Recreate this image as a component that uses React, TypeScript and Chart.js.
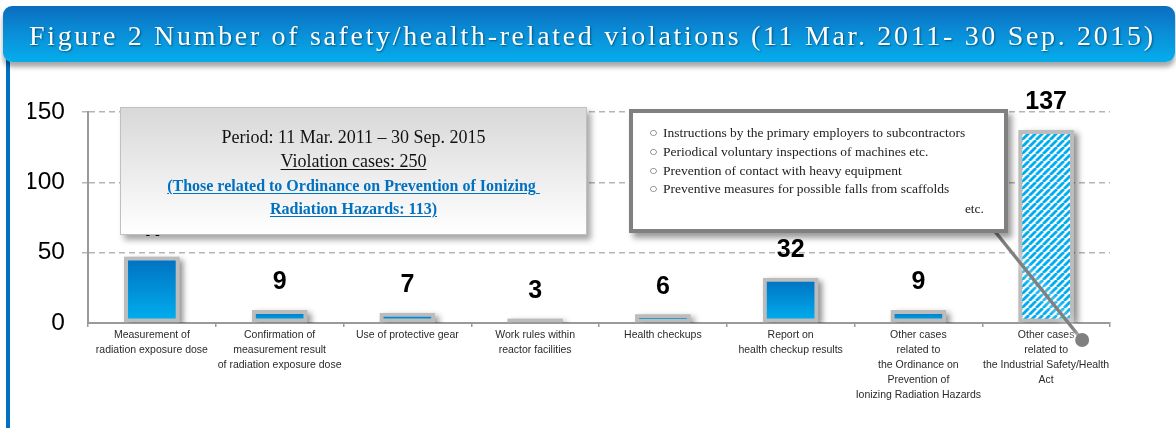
import React, { useEffect, useRef, useMemo } from 'react';
import { Chart, registerables } from 'chart.js';

Chart.register(...registerables);

const TITLE = 'Figure 2 Number of safety/health-related violations (11 Mar. 2011- 30 Sep. 2015)';

const categories: string[][] = [
  ['Measurement of', 'radiation exposure dose'],
  ['Confirmation of', 'measurement result', 'of radiation exposure dose'],
  ['Use of protective gear'],
  ['Work rules within', 'reactor facilities'],
  ['Health checkups'],
  ['Report on', 'health checkup results'],
  ['Other cases', 'related to', 'the Ordinance on', 'Prevention of', 'Ionizing Radiation Hazards'],
  ['Other cases', 'related to', 'the Industrial Safety/Health', 'Act'],
];

const violations: number[] = [47, 9, 7, 3, 6, 32, 9, 137];

const yTickValues: number[] = [0, 50, 100, 150];

const summaryLines: string[] = [
  'Period: 11 Mar. 2011 – 30 Sep. 2015',
  'Violation cases: 250',
  '(Those related to Ordinance on Prevention of Ionizing ',
  'Radiation Hazards: 113)',
];

const exampleLines: string[] = [
  'Instructions by the primary employers to subcontractors',
  'Periodical voluntary inspections of machines etc.',
  'Prevention of contact with heavy equipment',
  'Preventive measures for possible falls from scaffolds',
];

const SANS = '"Liberation Sans", Arial, sans-serif';
const SERIF = '"Liberation Serif", "Times New Roman", serif';

function makeStripePattern(ctx: CanvasRenderingContext2D): CanvasPattern | string {
  const s = 7;
  const tile = document.createElement('canvas');
  tile.width = s;
  tile.height = s;
  const t = tile.getContext('2d');
  if (!t) return '#00b0f0';
  t.fillStyle = '#ffffff';
  t.fillRect(0, 0, s, s);
  t.strokeStyle = '#00aef0';
  t.lineWidth = 2.8;
  for (const x0 of [-s, 0, s]) {
    t.beginPath();
    t.moveTo(x0, s);
    t.lineTo(x0 + s, 0);
    t.stroke();
  }
  return ctx.createPattern(tile, 'repeat') || '#00b0f0';
}

export default function App() {
  const canvasRef = useRef<HTMLCanvasElement | null>(null);

  const spacing = useMemo(() => {
    const c = document.createElement('canvas').getContext('2d');
    if (!c) return 3;
    c.font = `28px ${SERIF}`;
    const w = c.measureText(TITLE).width;
    return (1124 - w) / (TITLE.length - 1);
  }, []);

  useEffect(() => {
    const canvas = canvasRef.current;
    if (!canvas) return;
    const cctx = canvas.getContext('2d');
    if (!cctx) return;
    const stripes = makeStripePattern(cctx);
    const lastIndex = violations.length - 1;

    const barShadow = {
      id: 'barShadow',
      beforeDatasetsDraw(chart: any) {
        const { ctx, chartArea } = chart;
        const meta = chart.getDatasetMeta(0);
        ctx.save();
        ctx.beginPath();
        ctx.rect(chartArea.left, 0, chartArea.right - chartArea.left + 20, chartArea.bottom);
        ctx.clip();
        ctx.shadowColor = 'rgba(0,0,0,0.45)';
        ctx.shadowBlur = 6;
        ctx.shadowOffsetX = 4;
        ctx.shadowOffsetY = 3;
        ctx.fillStyle = '#bcbcbc';
        meta.data.forEach((el: any) => {
          const { x, y, base, width } = el.getProps(['x', 'y', 'base', 'width'], true);
          ctx.fillRect(x - width / 2, y, width, base - y);
        });
        ctx.restore();
      },
    };

    const valueLabels = {
      id: 'valueLabels',
      afterDatasetsDraw(chart: any) {
        const { ctx } = chart;
        const meta = chart.getDatasetMeta(0);
        ctx.save();
        ctx.font = `bold 25px ${SANS}`;
        ctx.fillStyle = '#000';
        ctx.textAlign = 'center';
        ctx.textBaseline = 'alphabetic';
        meta.data.forEach((el: any, i: number) => {
          const { x, y } = el.getProps(['x', 'y'], true);
          ctx.fillText(String(violations[i]), x, y - 21);
        });
        ctx.restore();
      },
    };

    const connector = {
      id: 'connector',
      afterDraw(chart: any) {
        const { ctx, chartArea } = chart;
        const ex = chart.scales.x.getPixelForValue(lastIndex) + 36;
        const ey = chartArea.bottom + 17;
        ctx.save();
        ctx.strokeStyle = '#808080';
        ctx.fillStyle = '#808080';
        ctx.lineWidth = 3.5;
        ctx.shadowColor = 'rgba(255,255,255,0.95)';
        ctx.shadowBlur = 10;
        ctx.beginPath();
        ctx.moveTo(993, 229);
        ctx.lineTo(ex, ey);
        ctx.stroke();
        ctx.beginPath();
        ctx.arc(ex, ey, 7, 0, Math.PI * 2);
        ctx.fill();
        ctx.restore();
      },
    };

    const chart = new Chart(canvas, {
      type: 'bar',
      data: {
        labels: categories,
        datasets: [
          {
            data: violations,
            backgroundColor: (c: any) => {
              if (c.dataIndex === lastIndex) return stripes;
              const ch = c.chart;
              if (!ch.chartArea || !ch.scales || !ch.scales.y) return '#0090d8';
              const top = ch.scales.y.getPixelForValue(c.raw);
              const bot = ch.scales.y.getPixelForValue(0);
              if (bot - top < 6) return '#bcbcbc';
              const g = ch.ctx.createLinearGradient(0, top, 0, bot);
              g.addColorStop(0, '#0070c0');
              g.addColorStop(1, '#00b0f0');
              return g;
            },
            borderColor: '#bcbcbc',
            borderWidth: 4,
            borderSkipped: false,
            barThickness: 55,
          } as any,
        ],
      },
      options: {
        responsive: false,
        animation: false,
        layout: { padding: { left: 28, right: 66, top: 112, bottom: 0 } },
        plugins: {
          legend: { display: false },
          tooltip: { enabled: false },
          title: { display: false },
        },
        scales: {
          x: {
            grid: {
              display: true,
              drawOnChartArea: false,
              offset: true,
              tickLength: 4,
              color: '#9a9a9a',
              lineWidth: 1.5,
            },
            border: { color: '#9a9a9a', width: 2 },
            ticks: {
              autoSkip: false,
              maxRotation: 0,
              minRotation: 0,
              padding: 1,
              color: '#2a2a2a',
              font: { family: SANS, size: 10.5, lineHeight: '15px' },
            },
            afterFit: (s: any) => {
              s.height = 105;
            },
          },
          y: {
            min: yTickValues[0],
            max: yTickValues[yTickValues.length - 1],
            ticks: {
              stepSize: yTickValues[1] - yTickValues[0],
              padding: 17,
              color: '#000',
              font: { family: SANS, size: 24.5 },
            },
            grid: {
              color: (c: any) => (c.tick && c.tick.value === 0 ? 'rgba(0,0,0,0)' : '#b5b5b5'),
              lineWidth: 1.5,
              tickLength: 6,
            },
            border: { color: '#9a9a9a', width: 2, dash: [6, 4] },
            afterFit: (s: any) => {
              s.width = 60;
            },
          },
        },
      } as any,
      plugins: [barShadow, valueLabels, connector],
    });

    return () => chart.destroy();
  }, []);

  const summaryTops = [17, 41, 66, 89];
  const exampleTops = [10, 29, 48, 66];

  return (
    <div
      style={{
        position: 'absolute',
        left: 0,
        top: 0,
        width: 1176,
        height: 428,
        overflow: 'hidden',
        background: '#ffffff',
      }}
    >
      <canvas
        ref={canvasRef}
        width={1176}
        height={428}
        style={{ position: 'absolute', left: 0, top: 0, width: 1176, height: 428 }}
      />
      <div
        style={{
          position: 'absolute',
          left: 6,
          top: 60,
          width: 4,
          height: 368,
          background: '#0070c0',
        }}
      />
      <div
        style={{
          position: 'absolute',
          left: 3,
          top: 6,
          width: 1172,
          height: 56,
          borderRadius: 9,
          background: 'linear-gradient(180deg, #0a6dbf 0%, #0a8cd6 45%, #05adec 100%)',
          boxShadow: '0 5px 5px rgba(0,0,0,0.35)',
        }}
      >
        <div
          style={{
            position: 'absolute',
            left: 26,
            top: 13.6,
            fontFamily: SERIF,
            fontSize: 28,
            lineHeight: '32px',
            color: '#ffffff',
            whiteSpace: 'nowrap',
            letterSpacing: `${spacing}px`,
            textShadow: '1px 1px 2px rgba(0,0,0,0.45)',
          }}
        >
          {TITLE}
        </div>
      </div>

      <div
        style={{
          position: 'absolute',
          left: 120,
          top: 107,
          width: 467,
          height: 128,
          boxSizing: 'border-box',
          border: '1px solid #c0c0c0',
          background: 'linear-gradient(180deg, #d8d8d8 0%, #ffffff 100%)',
          boxShadow: '4px 5px 6px rgba(0,0,0,0.35)',
        }}
      >
        {summaryLines.map((line, i) => (
          <div
            key={i}
            style={{
              position: 'absolute',
              left: 0,
              right: 0,
              top: summaryTops[i],
              height: 24,
              lineHeight: '24px',
              textAlign: 'center',
              whiteSpace: 'pre',
              fontFamily: SERIF,
              fontSize: i < 2 ? 18 : 16,
              fontWeight: i < 2 ? 'normal' : 'bold',
              color: i < 2 ? '#111' : '#0070c0',
              textDecoration: i === 0 ? 'none' : 'underline',
              textDecorationThickness: '1px',
              textUnderlineOffset: '2px',
            }}
          >
            {line}
          </div>
        ))}
      </div>

      <div
        style={{
          position: 'absolute',
          left: 629,
          top: 109,
          width: 379,
          height: 124,
          boxSizing: 'border-box',
          border: '4px solid #808080',
          background: '#ffffff',
          boxShadow: '4px 5px 6px rgba(0,0,0,0.4)',
        }}
      >
        {exampleLines.map((line, i) => (
          <div
            key={i}
            style={{
              position: 'absolute',
              left: 0,
              right: 0,
              top: exampleTops[i],
              height: 20,
              lineHeight: '20px',
              whiteSpace: 'nowrap',
              fontFamily: SERIF,
              fontSize: 13.5,
              color: '#222',
            }}
          >
            <span style={{ position: 'absolute', left: 17, fontSize: 8, fontFamily: '"DejaVu Sans", sans-serif' }}>○</span>
            <span style={{ position: 'absolute', left: 30 }}>{line}</span>
          </div>
        ))}
        <div
          style={{
            position: 'absolute',
            right: 20,
            top: 86,
            height: 20,
            lineHeight: '20px',
            fontFamily: SERIF,
            fontSize: 13.5,
            color: '#222',
          }}
        >
          etc.
        </div>
      </div>
    </div>
  );
}
